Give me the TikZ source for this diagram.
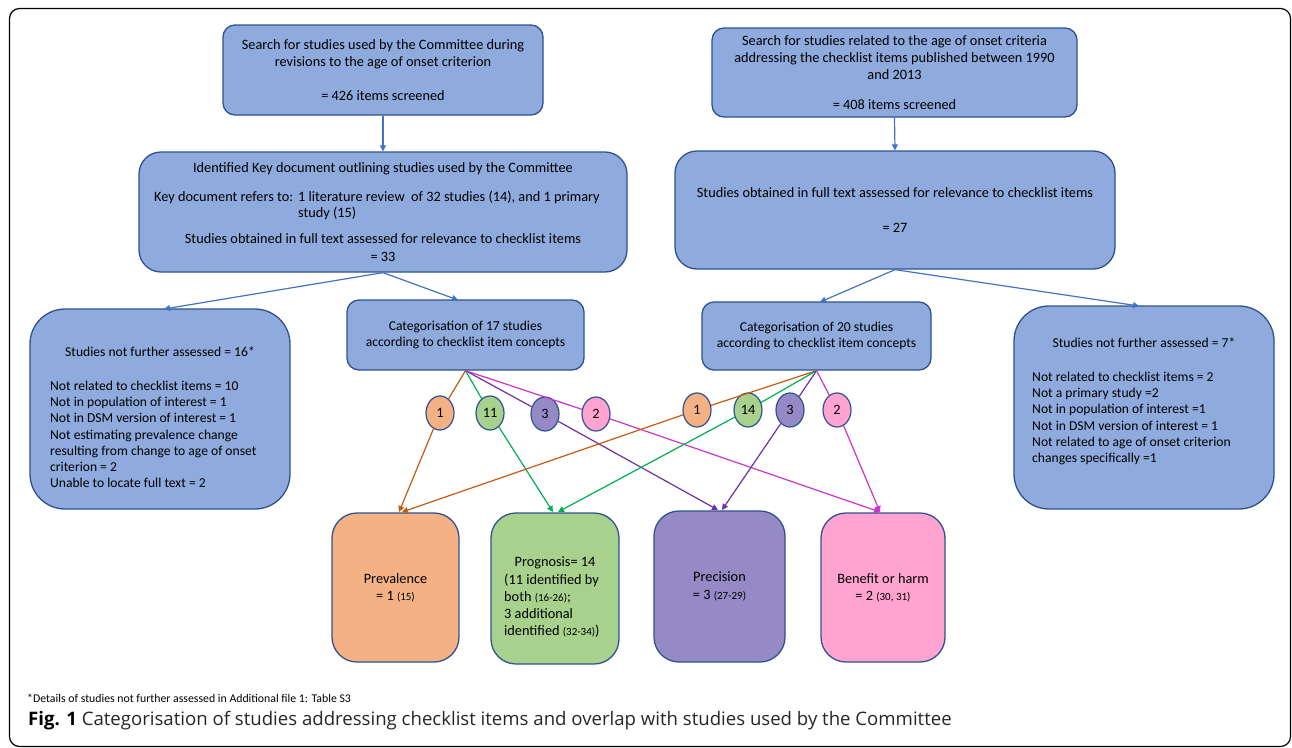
\documentclass[tikz,border=0pt]{standalone}
\usepackage{fontspec}
\setmainfont{Carlito}
\newfontfamily\capfont{Open Sans}
\usetikzlibrary{arrows.meta,shapes.geometric}
\definecolor{boxblue}{HTML}{8FAADC}
\definecolor{edge}{HTML}{2F528F}
\definecolor{arrblue}{HTML}{4472C4}
\definecolor{fillor}{HTML}{F4B183}
\definecolor{fillgr}{HTML}{A9D18E}
\definecolor{fillpu}{HTML}{968AC6}
\definecolor{fillpk}{HTML}{FFA3D1}
\definecolor{lor}{HTML}{C55A11}
\definecolor{lgr}{HTML}{00B050}
\definecolor{lpu}{HTML}{7030A0}
\definecolor{lpk}{HTML}{CC33CC}
\begin{document}
\begin{tikzpicture}[x=1pt,y=-1pt,
  box/.style={draw=edge, line width=1.3pt, fill=boxblue, rounded corners=#1, inner sep=0pt, align=center,
    font=\fontsize{14.3}{17.4}\selectfont},
  box/.default=12pt,
  txt/.style={inner sep=0pt, font=\fontsize{14.3}{17.4}\selectfont},
  ltxt/.style={inner sep=0pt, align=left, font=\fontsize{13.6}{16.3}\selectfont},
  barrow/.style={draw=arrblue, line width=1.2pt, -{Triangle[length=6pt,width=6pt]}},
  fan/.style={draw=#1, line width=1.2pt},
  fanarr/.style={draw=#1, line width=1.2pt, -{Triangle[length=6pt,width=6pt]}},
  ell/.style={ellipse, draw=edge, line width=1.2pt, fill=#1, minimum width=28pt, minimum height=34pt,
    inner sep=0pt, font=\fontsize{14.3}{16}\selectfont}]
\useasboundingbox (0,0) rectangle (1292,747);
% outer frame
\draw[line width=1.2pt, rounded corners=10pt] (9.5,8.5) rectangle (1290.5,746.5);

% top row
\node[box, minimum width=320pt, minimum height=90pt] (A) at (383,70)
  {Search for studies used by the Committee during\\revisions to the age of onset criterion\\[16.5pt]= 426 items screened};
\node[box, minimum width=365pt, minimum height=89pt] (C) at (894.5,72.5)
  {Search for studies related to the age of onset criteria\\addressing the checklist items published between 1990\\and 2013\\[12.5pt]= 408 items screened};

% second row
\node[box=22pt, minimum width=488pt, minimum height=120pt] (B) at (383,212) {};
\node[txt] (B1) at (383,168.5) {Identified Key document outlining studies used by the Committee};
\node[txt, anchor=base west] (B2) at (154,201.5) {Key document refers to:};
\node[txt, anchor=base west, align=left] (B3) at (298,201.5) {1 literature review\ \ of 32 studies (14), and 1 primary};
\node[txt, anchor=base west, align=left] (B4) at (298,217.5) {study (15)};
\node[txt, align=center] (B5) at (383,247.5) {Studies obtained in full text assessed for relevance to checklist items\\= 33};

\node[box=22pt, minimum width=440pt, minimum height=118pt] (D) at (895,210)
  {Studies obtained in full text assessed for relevance to checklist items\\[17.6pt]= 27};

% third row
\node[box=35pt, minimum width=260pt, minimum height=200pt] (E) at (160,409) {};
\node[txt, font=\fontsize{13.6}{16.3}\selectfont] (E1) at (160,352) {Studies not further assessed = 16*};
\node[ltxt, anchor=north west] (E2) at (50,380.5) {Not related to checklist items = 10\\Not in population of interest = 1\\Not in DSM version of interest = 1\\Not estimating prevalence change\\resulting from change to age of onset\\criterion = 2\\Unable to locate full text = 2};

\node[box=12pt, minimum width=237pt, minimum height=70pt, font=\fontsize{13.6}{16.3}\selectfont] (F) at (465.5,335)
  {Categorisation of 17 studies\\according to checklist item concepts};
\node[box=12pt, minimum width=229pt, minimum height=68pt, font=\fontsize{13.6}{16.3}\selectfont] (G) at (816.5,336)
  {Categorisation of 20 studies\\according to checklist item concepts};

\node[box=35pt, minimum width=260pt, minimum height=203pt] (H) at (1144,407.5) {};
\node[txt, font=\fontsize{13.6}{16.3}\selectfont] (H1) at (1144,343) {Studies not further assessed = 7*};
\node[ltxt, anchor=north west] (H2) at (1032,371.5) {Not related to checklist items = 2\\Not a primary study =2\\Not in population of interest =1\\Not in DSM version of interest = 1\\Not related to age of onset criterion\\changes specifically =1};

% bottom row
\node[box=25pt, fill=fillor, minimum width=127pt, minimum height=149pt] (Prev) at (395.5,587.5)
  {Prevalence\\= 1 {\fontsize{11}{13}\selectfont(15)}};
\node[box=25pt, fill=fillgr, minimum width=128pt, minimum height=151pt] (Prog) at (555,588.5) {};
\node[txt] (P1) at (555,562.5) {Prognosis= 14};
\node[txt, anchor=north west, align=left, font=\fontsize{14.3}{17}\selectfont] (P2) at (504,573.5)
  {(11 identified by\\both {\fontsize{11}{13}\selectfont(16-26)};\\3 additional\\identified {\fontsize{11}{13}\selectfont(32-34)})};
\node[box=25pt, fill=fillpu, minimum width=131pt, minimum height=151pt] (Prec) at (719.5,586.5)
  {Precision\\= 3 {\fontsize{11}{13}\selectfont(27-29)}};
\node[box=25pt, fill=fillpk, minimum width=124pt, minimum height=149pt] (Ben) at (883,587.5)
  {Benefit or harm\\= 2 {\fontsize{11}{13}\selectfont(30, 31)}};

% blue arrows
\coordinate (tE) at (164,309);
\coordinate (tF) at (458,300);
\coordinate (tG) at (820,302);
\coordinate (tH) at (1139,306);
\draw[barrow] (A.south) -- (B.north);
\draw[barrow] (C.south) -- (D.north);
\draw[barrow] (B.south) -- (tE);
\draw[barrow] (B.south) -- (tF);
\draw[barrow] (D.south) -- (tG);
\draw[barrow] (D.south) -- (tH);

% ellipses
\node[ell=fillor] (l1) at (440,413) {1};
\node[ell=fillgr] (l11) at (490,413) {11};
\node[ell=fillpu] (l3) at (545,414) {3};
\node[ell=fillpk] (l2) at (596,414) {2};
\node[ell=fillor] (r1) at (697,410) {1};
\node[ell=fillgr] (r14) at (748,410) {14};
\node[ell=fillpu] (r3) at (790,410) {3};
\node[ell=fillpk] (r2) at (837,410) {2};

% targets
\coordinate (prevL) at (399,512);
\coordinate (prevR) at (402,512);
\coordinate (progL) at (553,512);
\coordinate (progR) at (558,512);
\coordinate (precL) at (718,510);
\coordinate (precR) at (722,510);
\coordinate (benL) at (880,512);
\coordinate (benR) at (880,512);

% fan lines
\draw[fan=lor] (F.south) -- (l1);
\draw[fan=lgr] (F.south) -- (l11);
\draw[fan=lpu] (F.south) -- (l3);
\draw[fan=lpk] (F.south) -- (l2);
\draw[fanarr=lor] (l1) -- (prevL);
\draw[fanarr=lgr] (l11) -- (progL);
\draw[fanarr=lpu] (l3) -- (precL);
\draw[fanarr=lpk] (l2) -- (benL);

\draw[fan=lor] (G.south) -- (r1);
\draw[fan=lgr] (G.south) -- (r14);
\draw[fan=lpu] (G.south) -- (r3);
\draw[fan=lpk] (G.south) -- (r2);
\draw[fanarr=lor] (r1) -- (prevR);
\draw[fanarr=lgr] (r14) -- (progR);
\draw[fanarr=lpu] (r3) -- (precR);
\draw[fanarr=lpk] (r2) -- (benR);

% footnote and caption
\node[inner sep=0pt, anchor=west, font=\fontsize{11.8}{13}\selectfont] (fn) at (27,698)
  {*Details of studies not further assessed in Additional file 1: Table S3};
\node[inner sep=0pt, anchor=west, font=\capfont\fontsize{18.6}{22}\selectfont] (cap) at (28,721)
  {\textbf{Fig. 1} \color{black!85}Categorisation of studies addressing checklist items and overlap with studies used by the Committee};
\end{tikzpicture}
\end{document}
